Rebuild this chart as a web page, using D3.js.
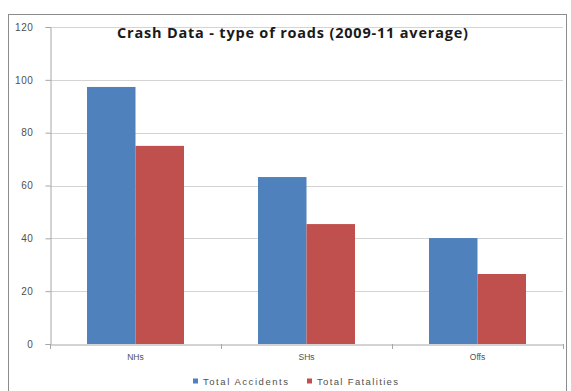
<!DOCTYPE html>
<html><head><meta charset="utf-8">
<script src="https://cdn.jsdelivr.net/npm/d3@7"></script>
<style>body{margin:0;background:#fff}svg{display:block}</style>
</head><body>
<script>
const categories = ["NHs", "SHs", "Offs"];
const seriesNames = ["Total Accidents", "Total Fatalities"];
const accidents = [97.3, 63.2, 40.1];
const fatalities = [75, 45.4, 26.5];
const yTicks = [0, 20, 40, 60, 80, 100, 120];
const colors = ["#4F81BD", "#C0504D"];

const W = 571, H = 391;
const svg = d3.select("body").append("svg").attr("width", W).attr("height", H);
svg.append("rect").attr("x", 8.5).attr("y", 14.5).attr("width", 558).attr("height", 380)
  .attr("fill", "#fff").attr("stroke", "#8c8c8c").attr("stroke-width", 1);

const mLeft = 50, mRight = 563, mTop = 27, mBottom = 344;
const y = d3.scaleLinear().domain([0, 120]).range([mBottom, mTop]);
const x = d3.scaleBand().domain(categories).range([mLeft, mRight]).paddingInner(0).paddingOuter(0);
const inner = d3.scaleBand().domain(seriesNames).range([0, x.bandwidth()]).paddingOuter(0.763).paddingInner(0);

// gridlines
svg.append("g").selectAll("line").data(yTicks.filter(d => d > 0)).join("line")
  .attr("x1", mLeft).attr("x2", mRight).attr("y1", d => Math.round(y(d)) + 0.5).attr("y2", d => Math.round(y(d)) + 0.5)
  .attr("stroke", "#d4d4d4").attr("stroke-width", 1);

const yAxis = svg.append("g").attr("transform", `translate(${mLeft + 0.5},0)`)
  .call(d3.axisLeft(y).tickValues(yTicks).tickSize(5).tickPadding(12));
yAxis.select(".domain").attr("stroke", "#a6a6a6");
yAxis.selectAll(".tick line").attr("stroke", "#a6a6a6");
yAxis.selectAll("text").attr("font-family", "Liberation Sans, Arial, sans-serif").attr("font-size", 10)
  .attr("letter-spacing", 0.6).attr("fill", "#505050");

const series = [accidents, fatalities];
const g = svg.append("g");
series.forEach((vals, si) => {
  g.append("g").selectAll("rect").data(vals).join("rect")
    .attr("x", (d, i) => x(categories[i]) + inner(seriesNames[si]))
    .attr("width", inner.bandwidth())
    .attr("y", d => y(d))
    .attr("height", d => y(0) - y(d))
    .attr("fill", colors[si]);
});

const xAxis = svg.append("g").attr("transform", `translate(0,${mBottom + 0.5})`)
  .call(d3.axisBottom(x).tickSize(0).tickPadding(9));
xAxis.select(".domain").attr("stroke", "#a6a6a6");
xAxis.selectAll("text").attr("font-family", "Liberation Sans, Arial, sans-serif").attr("font-size", 8.5).attr("fill", "#505050");
svg.append("g").selectAll("line").data(categories.map(c => x(c)).concat([mRight])).join("line")
  .attr("x1", d => Math.round(d) + 0.5).attr("x2", d => Math.round(d) + 0.5)
  .attr("y1", mBottom).attr("y2", mBottom + 5).attr("stroke", "#a6a6a6");

svg.append("text").attr("x", 117).attr("y", 38)
  .attr("font-family", "Open Sans, sans-serif").attr("font-weight", "bold").attr("font-size", 14.5)
  .attr("textLength", 351).attr("lengthAdjust", "spacing")
  .attr("fill", "#1a1a1a").text("Crash Data - type of roads (2009-11 average)");

const legendX = [193, 307];
const legendLen = [85, 81];
seriesNames.forEach((n, i) => {
  svg.append("rect").attr("x", legendX[i]).attr("y", 378.5).attr("width", 5).attr("height", 5).attr("fill", colors[i]);
  svg.append("text").attr("x", legendX[i] + 10).attr("y", 385)
    .attr("font-family", "Liberation Sans, Arial, sans-serif").attr("font-size", 9.5)
    .attr("textLength", legendLen[i]).attr("lengthAdjust", "spacing")
    .attr("fill", "#505050").text(n);
});
</script>
</body></html>
